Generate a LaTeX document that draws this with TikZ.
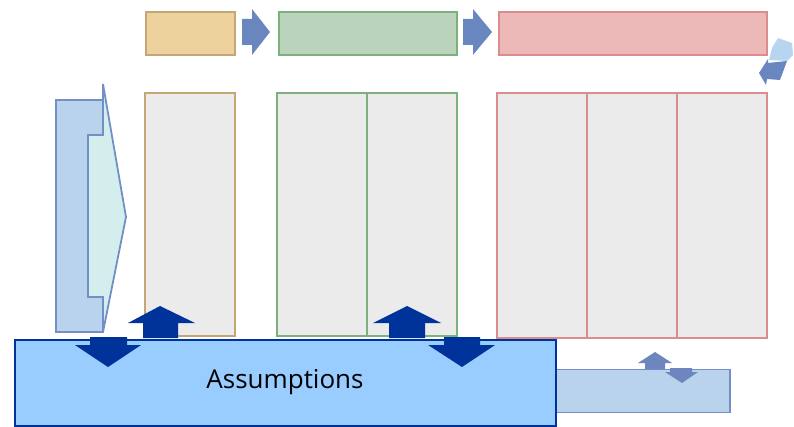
\documentclass[tikz,border=0pt]{standalone}
\usepackage{fontspec}
\setmainfont{Open Sans}
\begin{document}
\begin{tikzpicture}[x=1pt,y=-1pt,
  col/.style={draw=#1,fill=colgrey,line width=2pt},
  phase/.style={line width=2.2pt},
  blk/.style={fill=arrowblue},
  dblk/.style={fill=darkblue},
  mblk/.style={fill=midblue}]
\definecolor{colgrey}{HTML}{EBEBEB}
\definecolor{yelF}{HTML}{EDD29D}
\definecolor{yelD}{HTML}{C4A774}
\definecolor{grnF}{HTML}{B9D4BA}
\definecolor{grnD}{HTML}{7DB07D}
\definecolor{redF}{HTML}{EDB8B8}
\definecolor{redD}{HTML}{DB8D8D}
\definecolor{arrowblue}{HTML}{6A86BF}
\definecolor{darkblue}{HTML}{003399}
\definecolor{midblue}{HTML}{6D86C0}
\definecolor{lblueF}{HTML}{BAD3EC}
\definecolor{lblueD}{HTML}{7290C6}
\definecolor{cyanF}{HTML}{D3EEEC}
\definecolor{assF}{HTML}{99CCFF}
\definecolor{paleblue}{HTML}{B7D5F0}
\useasboundingbox (0,0) rectangle (794,427);
% columns
\draw[col=yelD] (145,93) rectangle (235,336);
\draw[col=grnD] (277,93) rectangle (367,336);
\draw[col=grnD] (367,93) rectangle (457,336);
\draw[col=redD] (497,93) rectangle (587,338);
\draw[col=redD] (587,93) rectangle (677,338);
\draw[col=redD] (677,93) rectangle (767,338);
% top phase boxes
\node[phase,draw=yelD,fill=yelF,minimum width=89pt,minimum height=43pt,anchor=north west,inner sep=0] (p1) at (145,11) {};
\node[phase,draw=grnD,fill=grnF,minimum width=178pt,minimum height=43pt,anchor=north west,inner sep=0] (p2) at (278,11) {};
\node[phase,draw=redD,fill=redF,minimum width=268pt,minimum height=43pt,anchor=north west,inner sep=0] (p3) at (498,11) {};
% top arrows
\fill[blk] (242,19) -- (252,19) -- (252,9) -- (270,32) -- (252,55) -- (252,45) -- (242,45) -- cycle;
\fill[blk] (463,19) -- (473,19) -- (473,9) -- (492,32) -- (473,55) -- (473,45) -- (463,45) -- cycle;
% curved return arrow
\fill[paleblue] (772,48) -- (778,38) -- (792,43) -- (793,55) -- (787,61) -- (769,60) -- cycle;
\fill[blk] (759,73) -- (768,59) -- (768,63) -- (787,61) -- (780,80) -- (767,79) -- (766,85) -- cycle;
% left shapes
\draw[fill=lblueF,draw=lblueD,line width=1.8pt] (56,100) rectangle (103,332);
\draw[fill=cyanF,draw=lblueD,line width=1.8pt] (103,84) -- (126,217) -- (103,332) -- (103,297) -- (88,297) -- (88,135) -- (103,135) -- cycle;
% bottom right small box
\node[draw=lblueD,fill=lblueF,line width=1.8pt,minimum width=176pt,minimum height=43pt,anchor=north west,inner sep=0] (br) at (553,368.5) {};
\fill[mblk] (655,352) -- (672,363) -- (665,363) -- (665,369) -- (645,369) -- (645,363) -- (638,363) -- cycle;
\fill[mblk] (670,368) -- (692,368) -- (692,372) -- (698,372) -- (682,383) -- (665,372) -- (670,372) -- cycle;
% assumptions
\node[draw=darkblue,fill=assF,line width=2.8pt,minimum width=541pt,minimum height=86pt,anchor=north west,inner sep=0] (ass) at (13.5,338.5) {};
\node[font=\fontsize{26}{30}\selectfont] (asslbl) at (285,382) {Assumptions};
% up/down arrows
\fill[dblk] (160,306) -- (195,323) -- (178,323) -- (178,338) -- (143,338) -- (143,323) -- (128,323) -- cycle;
\fill[dblk] (90,337) -- (127,337) -- (127,345) -- (141,345) -- (108,367) -- (75,345) -- (90,345) -- cycle;
\fill[dblk] (407,306) -- (441,323) -- (425,323) -- (425,338) -- (389,338) -- (389,323) -- (373,323) -- cycle;
\fill[dblk] (444,337) -- (480,337) -- (480,345) -- (495,345) -- (462,367) -- (428,345) -- (444,345) -- cycle;
\end{tikzpicture}
\end{document}
